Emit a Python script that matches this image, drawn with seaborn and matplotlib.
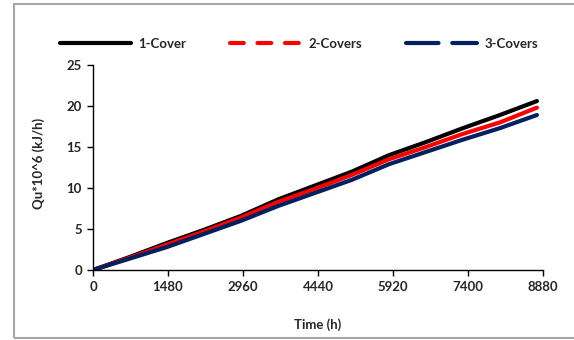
import matplotlib
matplotlib.use("Agg")
import matplotlib.pyplot as plt
from matplotlib.lines import Line2D
from matplotlib.patches import Rectangle
import seaborn as sns
import pandas as pd

# Cumulative useful heat gain over one year, sampled monthly
time_h = [0, 730, 1460, 2190, 2920, 3650, 4380, 5110, 5840, 6570, 7300, 8030, 8760]
cover_1 = [0, 1.6, 3.3, 4.9, 6.6, 8.6, 10.3, 12.0, 14.0, 15.6, 17.3, 18.9, 20.6]
covers_2 = [0, 1.5, 3.1, 4.7, 6.4, 8.3, 9.9, 11.6, 13.5, 15.0, 16.6, 18.0, 19.8]
covers_3 = [0, 1.4, 2.8, 4.4, 6.0, 7.8, 9.4, 11.0, 12.9, 14.4, 15.9, 17.3, 18.9]

series_names = ["1-Cover", "2-Covers", "3-Covers"]
series_colors = ["#000000", "#FF0000", "#002060"]
x_ticks = [0, 1480, 2960, 4440, 5920, 7400, 8880]
y_ticks = [0, 5, 10, 15, 20, 25]

sns.set_style("ticks")
plt.rcParams["font.family"] = ["Lato", "DejaVu Sans"]
plt.rcParams["font.weight"] = "bold"

W, H = 574, 340
fig = plt.figure(figsize=(W / 100, H / 100), dpi=100)
ax = fig.add_axes([93 / W, 1 - 270 / H, 450 / W, 205 / H])

df = pd.DataFrame({
    "Time (h)": time_h * 3,
    "Qu": cover_1 + covers_2 + covers_3,
    "Case": sum([[n] * len(time_h) for n in series_names], []),
})
for name, color in zip(series_names, series_colors):
    sns.lineplot(data=df[df["Case"] == name], x="Time (h)", y="Qu",
                 color=color, lw=3.0, ax=ax, legend=False,
                 solid_capstyle="round")

ax.set_xlim(0, 8880)
ax.set_ylim(0, 25)
ax.set_xticks(x_ticks)
ax.set_yticks(y_ticks)
ax.tick_params(axis="both", direction="out", length=4, width=1,
               labelsize=9.5, pad=4, color="black")
for lab in ax.get_xticklabels() + ax.get_yticklabels():
    lab.set_fontweight("bold")
for side in ["top", "right"]:
    ax.spines[side].set_visible(False)
for side in ["left", "bottom"]:
    ax.spines[side].set_color("black")
    ax.spines[side].set_linewidth(1)

ax.set_xlabel("Time (h)", fontsize=9.5, fontweight="bold")
ax.set_ylabel("Qu*10^6 (kJ/h)", fontsize=9.5, fontweight="bold")
ax.xaxis.set_label_coords(0.5, (270 - 318) / 205)
ax.yaxis.set_label_coords((45 - 93) / 450, (270 - 163) / 205)

handles = [
    Line2D([], [], color=series_colors[0], lw=3, solid_capstyle="round"),
    Line2D([], [], color=series_colors[1], lw=3, linestyle=(0, (3.3, 3.3)),
           dash_capstyle="round"),
    Line2D([], [], color=series_colors[2], lw=3, linestyle=(0, (7.8, 3.3)),
           dash_capstyle="round"),
]
fig.legend(handles, series_names, loc="center left",
           bbox_to_anchor=(60 / W, 1 - 44 / H), ncol=3, frameon=False,
           borderpad=0, borderaxespad=0, handlelength=5.4,
           handletextpad=0.55, columnspacing=3.3,
           prop={"size": 9.5, "weight": "bold"})

# outer chart border
fig.add_artist(Rectangle((14 / W, 2 / H), 1.2, 1 - 6 / H,
                         transform=fig.transFigure, fill=False,
                         edgecolor="#a6a6a6", lw=1.5))

fig.savefig("out.png", dpi=100)
